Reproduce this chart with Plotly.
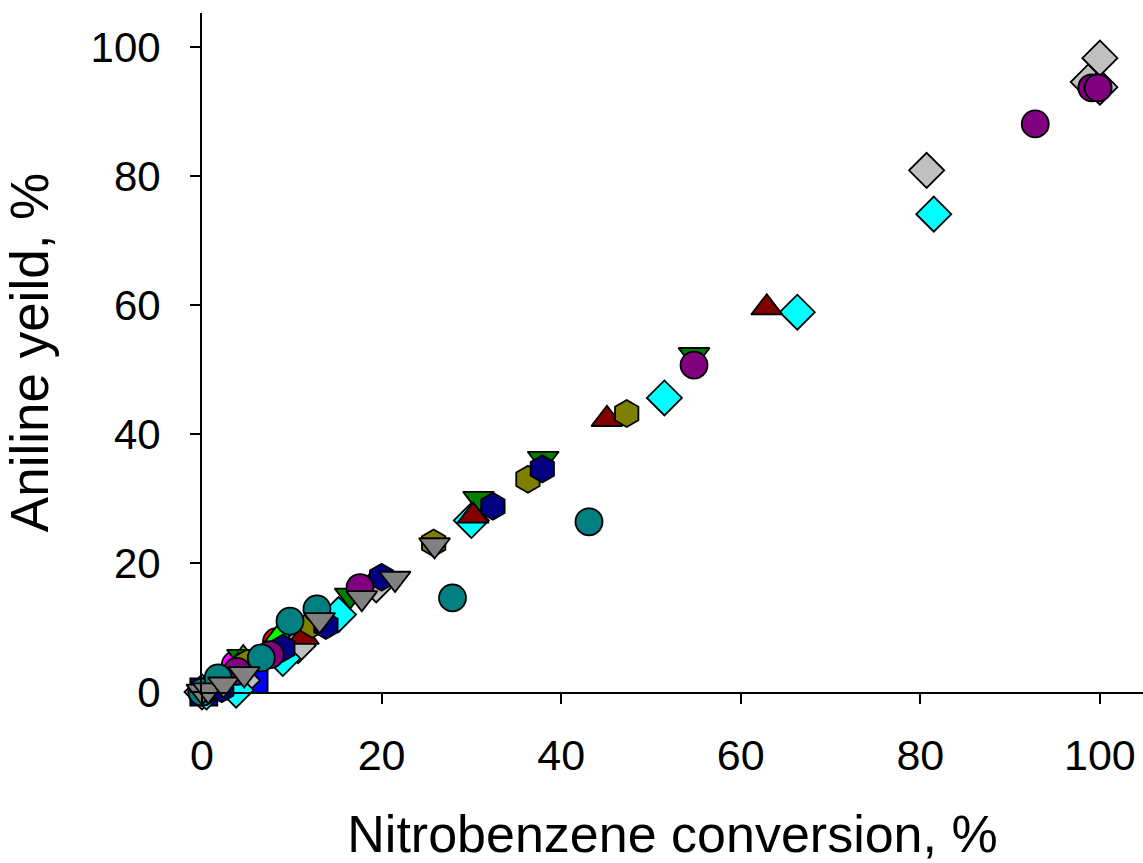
import plotly.graph_objects as go

# Data (Nitrobenzene conversion %, Aniline yield %)
red_x = [0.0, 2.5, 4.6, 8.3]
red_y = [0.0, 1.8, 4.2, 7.8]

magenta_x = [0.3, 1.6, 3.7]
magenta_y = [0.0, 1.2, 4.2]

lime_x = [0.5, 4.6, 8.6]
lime_y = [0.3, 5.2, 8.6]

blue_x = [0.2, 2.8, 5.8]
blue_y = [0.0, 0.9, 2.0]

silver_x = [0.0, 4.5, 10.7, 19.4, 80.7, 98.7, 100.0, 100.0]
silver_y = [0.0, 1.8, 7.2, 16.6, 80.9, 94.6, 93.8, 98.3]

cyan_x = [0.5, 3.8, 9.0, 15.2, 30.0, 51.5, 66.3, 81.5]
cyan_y = [0.0, 0.3, 5.2, 12.0, 26.6, 45.6, 58.9, 74.1]

green_x = [0.5, 4.5, 11.5, 16.5, 30.8, 38.0, 54.8]
green_y = [0.5, 5.5, 9.8, 15.0, 30.0, 36.2, 52.3]

darkred_x = [0.3, 4.0, 11.3, 30.2, 45.1, 62.9]
darkred_y = [0.2, 4.0, 8.5, 27.3, 42.3, 59.6]

olive_x = [0.5, 5.0, 12.3, 25.8, 36.3, 47.3]
olive_y = [0.4, 4.5, 10.5, 23.1, 33.0, 43.2]

navy_x = [0.2, 2.2, 9.0, 13.8, 20.0, 32.4, 37.9]
navy_y = [0.0, 0.5, 6.8, 10.3, 17.8, 28.8, 34.6]

purple_x = [0.0, 3.9, 7.6, 17.6, 54.8, 92.8, 99.1, 99.8]
purple_y = [0.0, 3.2, 5.8, 16.2, 50.7, 88.1, 93.7, 93.7]

teal_x = [0.0, 1.8, 6.6, 9.8, 12.8, 27.9, 43.1]
teal_y = [0.0, 2.2, 5.3, 11.0, 12.9, 14.6, 26.4]

gray_x = [0.0, 0.7, 2.4, 4.7, 13.1, 17.8, 21.5, 25.9]
gray_y = [0.1, 0.3, 1.2, 2.8, 11.2, 14.6, 17.6, 22.8]

x_ticks = [0, 20, 40, 60, 80, 100]
y_ticks = [0, 20, 40, 60, 80, 100]

series = [
    (red_x, red_y, "#FF0000", "circle"),
    (magenta_x, magenta_y, "#FF00FF", "circle"),
    (lime_x, lime_y, "#00FF00", "triangle-up"),
    (blue_x, blue_y, "#0000FF", "square"),
    (silver_x, silver_y, "#C0C0C0", "diamond"),
    (cyan_x, cyan_y, "#00FFFF", "diamond"),
    (green_x, green_y, "#008000", "triangle-down"),
    (darkred_x, darkred_y, "#800000", "triangle-up"),
    (olive_x, olive_y, "#808000", "hexagon"),
    (navy_x, navy_y, "#000080", "hexagon"),
    (purple_x, purple_y, "#800080", "circle"),
    (teal_x, teal_y, "#008080", "circle"),
    (gray_x, gray_y, "#808080", "triangle-down"),
]

fig = go.Figure()
for xs, ys, col, sym in series:
    fig.add_trace(go.Scatter(
        x=xs, y=ys, mode="markers", cliponaxis=False,
        marker=dict(symbol=sym, size=27, color=col,
                    line=dict(color="black", width=1.8)),
        showlegend=False,
    ))

font_family = "Liberation Sans, Arial, sans-serif"
fig.update_layout(
    width=1143, height=863,
    margin=dict(l=202, r=0, t=13, b=171),
    plot_bgcolor="white", paper_bgcolor="white",
    font=dict(family=font_family, color="black"),
    showlegend=False,
)
fig.update_xaxes(
    range=[0, 104.8], tickvals=x_ticks, ticks="outside", ticklen=10,
    tickwidth=1.5, tickcolor="black", showline=True, linecolor="black",
    linewidth=1.8, showgrid=False, zeroline=False,
    tickfont=dict(size=43, family=font_family),
    ticklabelstandoff=14,
    title=dict(text="Nitrobenzene conversion, %", font=dict(size=52, family=font_family), standoff=44),
)
fig.update_yaxes(
    range=[0, 105.3], tickvals=y_ticks, ticks="outside", ticklen=10,
    tickwidth=1.5, tickcolor="black", showline=True, linecolor="black",
    linewidth=1.8, showgrid=False, zeroline=False,
    tickfont=dict(size=42, family=font_family),
    ticklabelstandoff=21,
    title=dict(text="Aniline yeild, %", font=dict(size=53, family=font_family), standoff=30),
)

fig.write_html("out.html")
